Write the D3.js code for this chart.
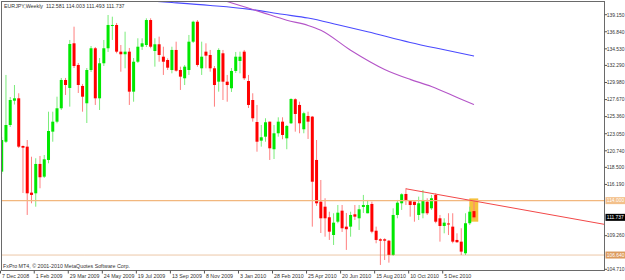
<!DOCTYPE html>
<html lang="en">
<head>
<meta charset="UTF-8">
<title>EURJPY Weekly</title>
<script src="https://cdn.jsdelivr.net/npm/d3@7"></script>
<style>
  body { margin: 0; background: #fff; }
  svg { display: block; }
  text { font-family: "Liberation Sans", Arial, sans-serif; font-size: 5.3px; fill: #333; white-space: pre; }
  text.ylab { font-size: 4.9px; }
</style>
</head>
<body>
<svg></svg>
<script>
const w = 625, h = 280;
const plot = { left: 1.5, right: 604.5, top: 1.5, bottom: 270.5 };

// weekly candles, week 0 = 7 Dec 2008
const open = [
  117.92, 121.97, 124.23, 127.52, 127.84, 121.39, 121.30, 115.08, 114.99, 118.96,
  117.24, 119.50, 123.33, 124.68, 126.49, 130.32, 129.24, 135.28, 132.35, 129.51,
  127.17, 131.67, 134.61, 127.84, 132.58, 134.61, 137.66, 137.76, 134.15, 133.80,
  134.15, 128.74, 132.79, 134.82, 135.05, 138.43, 134.24, 135.15, 133.47, 133.02,
  131.67, 134.38, 131.67, 130.55, 131.67, 135.50, 138.20, 131.90, 134.15, 133.70,
  131.90, 130.09, 133.93, 130.09, 129.20, 131.54, 132.89, 134.15, 130.18, 127.61,
  124.64, 122.11, 122.65, 124.68, 120.95, 123.11, 124.68, 122.43, 124.46, 127.71,
  126.94, 123.65, 125.45, 125.36, 119.50, 113.86, 113.18, 111.75, 109.35, 111.15,
  112.64, 110.48, 110.48, 112.15, 111.61, 113.14, 112.29, 113.55, 109.93, 108.77,
  108.77, 108.58, 106.65, 112.06, 113.64, 114.90, 113.99, 113.86, 112.06, 112.29,
  113.86, 112.96, 114.77, 111.61, 110.57, 110.91, 110.48, 108.68, 108.45, 106.88,
  110.94, 112.581
];
const high = [
  122.61, 131.00, 128.02, 129.64, 128.52, 121.46, 122.20, 119.94, 119.73, 120.04,
  120.17, 126.03, 126.03, 128.06, 130.59, 130.59, 135.73, 137.53, 132.62, 129.78,
  131.94, 134.92, 134.78, 133.29, 135.73, 139.11, 138.88, 138.03, 135.05, 136.85,
  134.65, 133.29, 135.96, 135.96, 138.66, 138.66, 135.96, 136.18, 134.82, 133.25,
  134.82, 135.50, 132.12, 132.35, 136.41, 138.34, 138.43, 135.50, 135.28, 134.38,
  132.21, 134.61, 134.38, 131.00, 131.94, 134.11, 134.15, 134.38, 131.00, 128.52,
  126.94, 124.23, 125.14, 124.68, 124.23, 125.27, 125.27, 124.23, 127.84, 127.84,
  127.38, 126.03, 126.03, 125.45, 122.20, 116.79, 114.32, 112.50, 112.29, 113.41,
  113.41, 112.33, 112.50, 113.41, 113.41, 114.77, 114.09, 113.86, 110.48, 108.91,
  108.91, 108.68, 112.96, 114.09, 114.99, 115.67, 114.09, 113.86, 114.54, 115.44,
  114.32, 114.77, 114.99, 112.06, 111.61, 112.29, 112.29, 109.58, 110.26, 112.29,
  113.18, 114.003
];
const low = [
  117.60, 121.80, 123.96, 127.00, 121.12, 115.03, 112.06, 113.64, 113.18, 115.67,
  117.06, 119.05, 121.97, 124.46, 126.26, 128.29, 126.71, 131.94, 128.56, 126.03,
  124.50, 131.40, 126.94, 126.26, 132.21, 134.11, 135.73, 133.93, 131.44, 131.90,
  126.94, 127.38, 132.62, 134.38, 134.78, 134.61, 132.12, 132.79, 131.00, 131.67,
  131.22, 131.44, 128.97, 129.64, 131.00, 135.32, 132.12, 131.00, 131.90, 131.44,
  126.71, 128.74, 127.61, 127.38, 128.70, 131.27, 131.22, 130.32, 126.53, 124.68,
  120.62, 121.30, 121.97, 119.50, 119.63, 122.65, 122.30, 120.95, 124.37, 123.33,
  123.11, 123.11, 122.34, 110.48, 113.28, 109.62, 109.12, 108.68, 108.00, 110.94,
  109.76, 107.33, 109.12, 111.38, 110.03, 112.33, 112.29, 109.58, 108.23, 105.30,
  105.97, 105.61, 106.51, 111.61, 112.74, 113.41, 111.83, 111.15, 111.38, 111.61,
  112.06, 112.74, 110.94, 108.45, 109.58, 109.35, 108.23, 108.30, 106.65, 106.64,
  110.71, 111.493
];
const close = [
  122.20, 124.23, 127.61, 127.84, 121.30, 121.16, 114.99, 114.77, 118.96, 117.16,
  119.59, 123.42, 124.68, 126.49, 130.32, 129.64, 135.19, 132.21, 129.64, 128.06,
  131.67, 134.61, 127.84, 132.58, 134.61, 137.76, 137.76, 134.15, 133.80, 134.15,
  128.74, 132.79, 134.82, 135.28, 138.43, 134.82, 135.15, 133.70, 132.79, 131.98,
  134.38, 131.58, 130.77, 132.12, 135.50, 138.20, 132.35, 133.47, 133.61, 131.90,
  129.64, 134.38, 130.09, 129.64, 131.54, 133.47, 133.47, 130.55, 126.94, 125.14,
  121.97, 122.57, 124.60, 121.08, 123.11, 124.68, 122.88, 124.10, 127.75, 125.72,
  124.46, 125.82, 124.68, 116.56, 113.64, 111.61, 111.61, 109.80, 111.02, 112.37,
  110.26, 110.13, 112.06, 111.83, 112.83, 113.41, 113.41, 109.80, 108.68, 108.58,
  108.58, 106.65, 112.06, 113.72, 114.86, 114.09, 113.41, 113.41, 113.64, 114.09,
  112.29, 114.32, 111.15, 110.57, 111.02, 110.77, 108.45, 108.37, 107.10, 110.94,
  112.50, 111.737
];

// moving averages: [week, price]
const maSlow = [[30, 141.2], [40, 140.8], [49, 140.4], [58, 139.9], [66, 139.2], [72, 138.7],
  [79, 137.8], [86, 136.85], [96, 135.4], [104, 134.4], [111, 133.55]];
const maFast = [[51, 141.3], [56, 140.4], [61, 139.5], [67, 138.4], [72, 137.7], [75, 137.05],
  [82, 134.35], [90, 131.75], [96, 130.4], [101, 129.45], [108, 127.7], [111, 127.0]];

// objects
const trendPts = [[95, 115.6], [111, 113.95]];
const hLine = 114.000;
const hLineDot = 106.640;
const boxWeeks = [109.9, 112.0];
const boxPrices = [114.3, 111.15];

const xTickWeeks = [0, 8, 16, 24, 32, 40, 48, 56, 64, 72, 80, 88, 96, 104];
const xTickLabels = ["7 Dec 2008", "1 Feb 2009", "29 Mar 2009", "24 May 2009", "19 Jul 2009",
  "13 Sep 2009", "8 Nov 2009", "3 Jan 2010", "28 Feb 2010", "25 Apr 2010", "20 Jun 2010",
  "15 Aug 2010", "10 Oct 2010", "5 Dec 2010"];
const yTicks = [139.150, 136.840, 134.530, 132.290, 129.980, 127.670, 125.360, 123.050,
  120.740, 118.500, 116.190, 109.260, 104.710];

const svg = d3.select("svg").attr("width", w).attr("height", h);
svg.append("rect").attr("width", w).attr("height", h).attr("fill", "#fff");

const x = d3.scaleLinear().domain([0, 111]).range([1.7, 474]);
const y = d3.scaleLinear().domain([104.71, 139.15]).range([269.3, 14.7]);

svg.append("clipPath").attr("id", "clip")
  .append("rect")
    .attr("x", plot.left).attr("y", plot.top)
    .attr("width", plot.right - plot.left).attr("height", plot.bottom - plot.top);

const g = svg.append("g").attr("clip-path", "url(#clip)");

// highlight rectangle behind last bar
g.append("rect")
  .attr("x", x(boxWeeks[0])).attr("width", x(boxWeeks[1]) - x(boxWeeks[0]))
  .attr("y", y(boxPrices[0])).attr("height", y(boxPrices[1]) - y(boxPrices[0]))
  .attr("fill", "#f5c23c");

// moving averages
const maLine = d3.line().x(d => x(d[0])).y(d => y(d[1])).curve(d3.curveMonotoneX);
g.append("path").attr("d", maLine(maSlow)).attr("fill", "none")
  .attr("stroke", "#4a4aff").attr("stroke-width", 1.1);
g.append("path").attr("d", maLine(maFast)).attr("fill", "none")
  .attr("stroke", "#b455c8").attr("stroke-width", 1.1);

// candles
const bars = d3.range(open.length);
const up = i => close[i] >= open[i];

g.selectAll("line.wick")
  .data(bars)
  .enter()
  .append("line")
    .attr("class", "wick")
    .attr("x1", i => x(i)).attr("x2", i => x(i))
    .attr("y1", i => y(high[i])).attr("y2", i => y(low[i]))
    .attr("stroke", i => up(i) ? "#7aec7a" : "#ff7f7f")
    .attr("stroke-width", 1);

g.selectAll("rect.body")
  .data(bars)
  .enter()
  .append("rect")
    .attr("class", "body")
    .attr("x", i => x(i) - 1.5)
    .attr("width", 3)
    .attr("y", i => y(Math.max(open[i], close[i])))
    .attr("height", i => Math.max(1, Math.abs(y(open[i]) - y(close[i]))))
    .attr("fill", i => up(i) ? "#00e800" : "#ff0000");

// horizontal lines
g.append("line")
  .attr("x1", plot.left).attr("x2", plot.right)
  .attr("y1", y(hLine)).attr("y2", y(hLine))
  .attr("stroke", "#f2b77e").attr("stroke-width", 1.4);
g.append("line")
  .attr("x1", plot.left).attr("x2", plot.right)
  .attr("y1", y(hLineDot)).attr("y2", y(hLineDot))
  .attr("stroke", "#d98d50").attr("stroke-width", 1)
  .attr("stroke-dasharray", "1,1");

// trend line (ray to the right)
const slope = (trendPts[1][1] - trendPts[0][1]) / (trendPts[1][0] - trendPts[0][0]);
const endWeek = x.invert(plot.right);
g.append("line")
  .attr("x1", x(trendPts[0][0])).attr("y1", y(trendPts[0][1]))
  .attr("x2", x(endWeek)).attr("y2", y(trendPts[0][1] + slope * (endWeek - trendPts[0][0])))
  .attr("stroke", "#f24848").attr("stroke-width", 1);

// frame
svg.append("rect")
  .attr("x", plot.left).attr("y", plot.top)
  .attr("width", plot.right - plot.left).attr("height", plot.bottom - plot.top)
  .attr("fill", "none").attr("stroke", "#6a6a6a").attr("stroke-width", 1);

// x axis
xTickWeeks.forEach((wk, k) => {
  const tx = Math.max(0.5, x(wk) - 1.5);
  svg.append("line")
    .attr("x1", tx).attr("x2", tx).attr("y1", plot.bottom).attr("y2", plot.bottom + 3)
    .attr("stroke", "#555");
  svg.append("text").attr("x", tx + 1.5).attr("y", 278.2).text(xTickLabels[k]);
});

// y axis
yTicks.forEach(v => {
  svg.append("line")
    .attr("x1", plot.right).attr("x2", plot.right + 2.5)
    .attr("y1", y(v)).attr("y2", y(v)).attr("stroke", "#555");
  svg.append("text").attr("class", "ylab").attr("x", 606.8).attr("y", y(v) + 1.8).text(v.toFixed(3));
});

function priceTag(v, label, fill, color) {
  svg.append("rect")
    .attr("x", 605.5).attr("y", y(v) - 3.5).attr("width", 19.5).attr("height", 7)
    .attr("fill", fill);
  svg.append("text").attr("class", "ylab").attr("x", 606.8).attr("y", y(v) + 1.8)
    .style("fill", color).text(label);
}
priceTag(hLine, hLine.toFixed(3), "#f3c08a", "#fff");
priceTag(close[close.length - 1], close[close.length - 1].toFixed(3), "#000", "#fff");
priceTag(hLineDot, hLineDot.toFixed(3), "#dc9b5e", "#fff");

// titles
svg.append("text").attr("x", 4).attr("y", 7.6)
  .text(`EURJPY,Weekly  ${open[111].toFixed(3)} ${high[111].toFixed(3)} ${low[111].toFixed(3)} ${close[111].toFixed(3)}`);
svg.append("text").attr("x", 3).attr("y", 267.6)
  .text("FxPro MT4, \u00a9 2001-2010 MetaQuotes Software Corp.");
</script>
</body>
</html>
